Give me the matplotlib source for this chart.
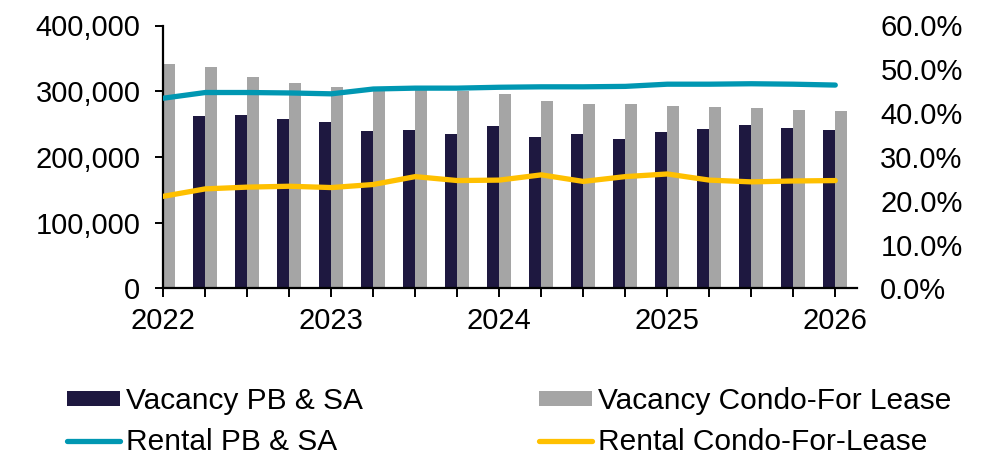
import numpy as np
import matplotlib
matplotlib.use("Agg")
import matplotlib.pyplot as plt
from matplotlib.ticker import FuncFormatter, MultipleLocator, FixedLocator

plt.rcParams['font.family'] = ['Liberation Sans', 'DejaVu Sans']

# ---- data (quarterly, 2022Q1 .. 2026Q1) ----
quarters = ["2022Q1", "2022Q2", "2022Q3", "2022Q4",
            "2023Q1", "2023Q2", "2023Q3", "2023Q4",
            "2024Q1", "2024Q2", "2024Q3", "2024Q4",
            "2025Q1", "2025Q2", "2025Q3", "2025Q4",
            "2026Q1"]
year_labels = ["2022", "2023", "2024", "2025", "2026"]

vacancy_pb_sa = [np.nan, 263000, 264000, 258000,
                 253000, 240000, 241000, 235000,
                 247000, 230000, 235000, 227000,
                 238000, 243000, 248000, 244000,
                 241000]
vacancy_condo = [342000, 337000, 321000, 312000,
                 307000, 303000, 302000, 301000,
                 296000, 285000, 280000, 281000,
                 277000, 276000, 275000, 271000,
                 270000]
rental_pb_sa = [0.434, 0.447, 0.447, 0.446,
                0.444, 0.455, 0.457, 0.457,
                0.459, 0.460, 0.460, 0.461,
                0.466, 0.466, 0.467, 0.466,
                0.464]
rental_condo = [0.210, 0.227, 0.231, 0.233,
                0.230, 0.237, 0.255, 0.246,
                0.247, 0.259, 0.244, 0.255,
                0.261, 0.247, 0.243, 0.245,
                0.246]

C_DARK = "#1E1840"
C_GRAY = "#A5A5A5"
C_TEAL = "#0097B2"
C_YELL = "#FFC000"

W, H = 996, 455
fig = plt.figure(figsize=(W / 100, H / 100), dpi=100)
ax = fig.add_axes([163.3 / W, 1 - 288.3 / H, (856.7 - 163.3) / W, (288.3 - 25.5) / H])

x = np.arange(len(quarters))
bw = 12 / 42
b1 = ax.bar(x - bw / 2, vacancy_pb_sa, width=bw, color=C_DARK, zorder=2)
b2 = ax.bar(x + bw / 2, vacancy_condo, width=bw, color=C_GRAY, zorder=2)

ax.set_xlim(0, 16.51)
ax.set_ylim(0, 400000)
ax.yaxis.set_major_locator(MultipleLocator(100000))
ax.yaxis.set_major_formatter(FuncFormatter(lambda v, p: f"{int(v):,}"))
ax.xaxis.set_major_locator(FixedLocator(x[::4]))
ax.set_xticklabels(year_labels)
ax.xaxis.set_minor_locator(FixedLocator(x))

for s in ["top", "right"]:
    ax.spines[s].set_visible(False)
for s in ["left", "bottom"]:
    ax.spines[s].set_linewidth(1.6)
    ax.spines[s].set_color("black")
    ax.spines[s].set_zorder(5)

ax.tick_params(axis="y", direction="out", length=5.5, width=1.4, pad=11, labelsize=21)
ax.tick_params(axis="x", which="both", direction="out", length=6.5, width=1.4, pad=7, labelsize=21)

ax2 = ax.twinx()
l1, = ax2.plot(x, rental_pb_sa, color=C_TEAL, lw=3.8, solid_capstyle="round")
l2, = ax2.plot(x, rental_condo, color=C_YELL, lw=3.8, solid_capstyle="round")
ax2.set_ylim(0, 0.6)
ax2.yaxis.set_major_locator(MultipleLocator(0.1))
ax2.yaxis.set_major_formatter(FuncFormatter(lambda v, p: f"{v*100:.1f}%"))
for s in ["top", "right", "left", "bottom"]:
    ax2.spines[s].set_visible(False)
ax2.tick_params(axis="y", length=0, pad=17, labelsize=21)

leg = fig.legend([b1, l1, b2, l2],
                 ["Vacancy PB & SA", "Rental PB & SA",
                  "Vacancy Condo-For Lease", "Rental Condo-For-Lease"],
                 ncol=2, loc="upper left", bbox_to_anchor=(67 / W, 1 - 387 / H),
                 frameon=False, fontsize=21.5, borderpad=0, borderaxespad=0,
                 handlelength=1.78, handleheight=0.40, handletextpad=0.2,
                 columnspacing=5.9, labelspacing=0.45)

fig.savefig("out.png", dpi=100)
